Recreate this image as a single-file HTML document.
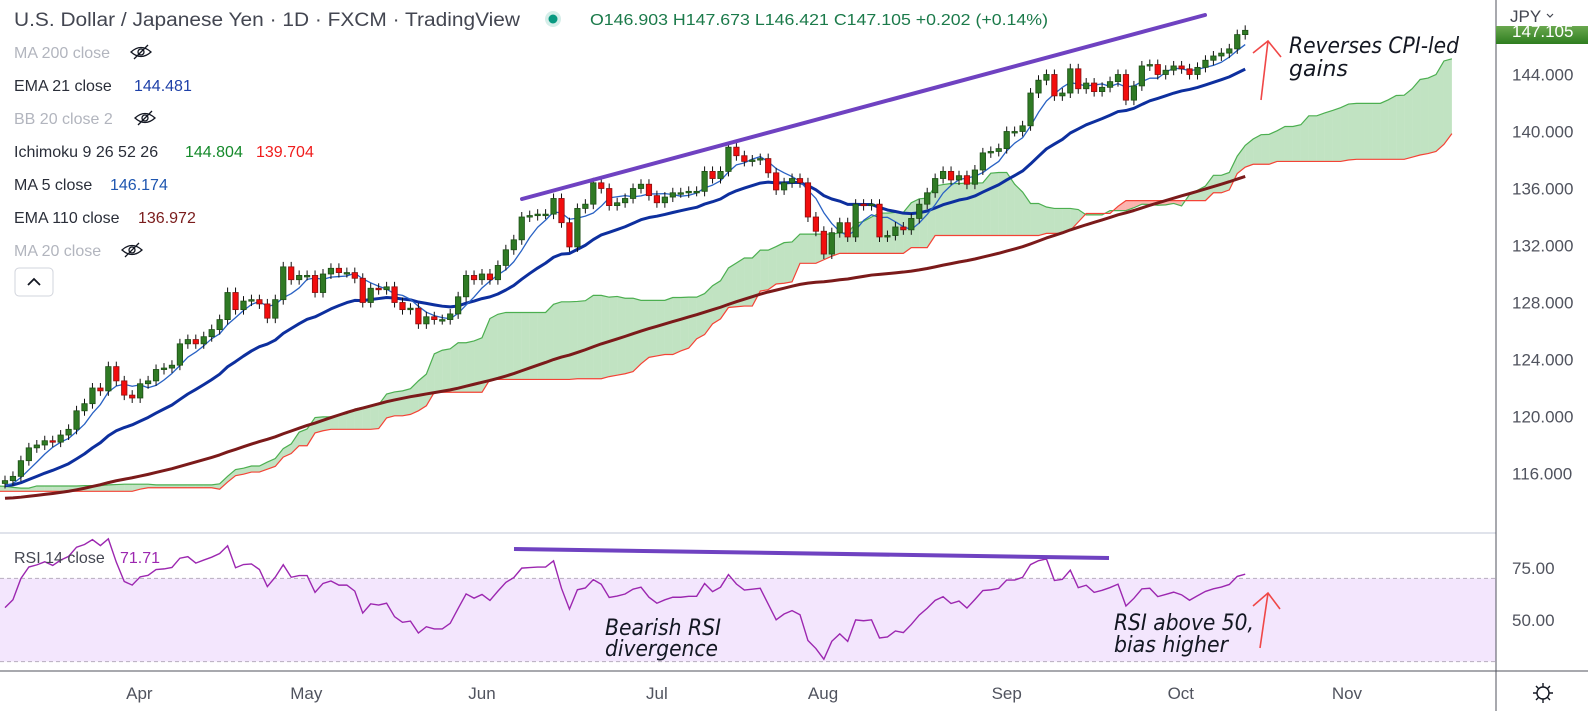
<!DOCTYPE html>
<html><head><meta charset="utf-8"><style>
html,body{margin:0;padding:0;background:#fff;}
svg{display:block;font-family:"Liberation Sans",sans-serif;}
</style></head><body>
<svg id="chart" width="1588" height="711" viewBox="0 0 1588 711" xmlns="http://www.w3.org/2000/svg">
<defs>
<clipPath id="mainClip"><rect x="0" y="0" width="1496" height="532"/></clipPath>
<clipPath id="rsiClip"><rect x="0" y="534" width="1496" height="136"/></clipPath>
<clipPath id="lblClip"><rect x="1496" y="26" width="92" height="18"/></clipPath>
<linearGradient id="pg" x1="0" y1="0" x2="0" y2="1"><stop offset="0" stop-color="#6aa84f"/><stop offset="1" stop-color="#2e7d1f"/></linearGradient>
</defs>
<rect width="1588" height="711" fill="#fff"/>
<rect x="0" y="578.4" width="1496" height="83.2" fill="#f3e6fd"/>
<line x1="0" y1="578.4" x2="1496" y2="578.4" stroke="#b8aebf" stroke-dasharray="4,3" stroke-width="1"/>
<line x1="0" y1="661.6" x2="1496" y2="661.6" stroke="#b8aebf" stroke-dasharray="4,3" stroke-width="1"/>
<line x1="0" y1="533" x2="1496" y2="533" stroke="#e0e3eb" stroke-width="2"/>
<line x1="1496" y1="0" x2="1496" y2="711" stroke="#50535e" stroke-width="1"/>
<line x1="0" y1="671" x2="1588" y2="671" stroke="#50535e" stroke-width="1"/>
<g id="main" clip-path="url(#mainClip)"></g>
<g id="rsi" clip-path="url(#rsiClip)"></g>
<g id="axes"></g>

<line x1="522" y1="199" x2="1205" y2="15" stroke="#6f42c1" stroke-width="4" stroke-linecap="round"/>
<line x1="514" y1="549" x2="1109" y2="558" stroke="#6f42c1" stroke-width="4"/>
<g stroke="#f04747" stroke-width="1.6" fill="none">
<line x1="1261" y1="100" x2="1268" y2="41"/><polyline points="1253,53 1268,41 1281,57"/></g>
<g stroke="#f04747" stroke-width="1.6" fill="none">
<line x1="1260" y1="648" x2="1268" y2="593"/><polyline points="1253,606 1268,593 1280,609"/></g>
<g font-style="italic" font-size="22" fill="#131722" font-family="'DejaVu Sans','Liberation Sans',sans-serif">
<text x="1289" y="53" textLength="170" lengthAdjust="spacingAndGlyphs">Reverses CPI-led</text>
<text x="1289" y="76">gains</text>
<text x="605" y="635" textLength="116" lengthAdjust="spacingAndGlyphs">Bearish RSI</text>
<text x="605" y="656" textLength="113" lengthAdjust="spacingAndGlyphs">divergence</text>
<text x="1114" y="630" textLength="140" lengthAdjust="spacingAndGlyphs">RSI above 50,</text>
<text x="1114" y="652" textLength="114" lengthAdjust="spacingAndGlyphs">bias higher</text>
</g>

<text x="14" y="26" font-size="19" fill="#434651" textLength="506" lengthAdjust="spacingAndGlyphs">U.S. Dollar / Japanese Yen · 1D · FXCM · TradingView</text>
<circle cx="553" cy="19" r="8" fill="#d5eee9"/>
<circle cx="553" cy="19" r="4.5" fill="#089981"/>
<text x="590" y="25" font-size="15.5" fill="#1b7a4a" textLength="458" lengthAdjust="spacingAndGlyphs">O146.903 H147.673 L146.421 C147.105 +0.202 (+0.14%)</text>
<g font-size="16">
<text x="14" y="58" fill="#b2b5be">MA 200 close</text>
<text x="14" y="91" fill="#2a2e39">EMA 21 close <tspan x="134" fill="#1e40a8">144.481</tspan></text>
<text x="14" y="124" fill="#b2b5be">BB 20 close 2</text>
<text x="14" y="157" fill="#2a2e39">Ichimoku 9 26 52 26 <tspan x="185" fill="#14892a">144.804</tspan><tspan x="256" fill="#f01c1c">139.704</tspan></text>
<text x="14" y="190" fill="#2a2e39">MA 5 close <tspan x="110" fill="#1e56b0">146.174</tspan></text>
<text x="14" y="223" fill="#2a2e39">EMA 110 close <tspan x="138" fill="#7a1c1c">136.972</tspan></text>
<text x="14" y="256" fill="#b2b5be">MA 20 close</text>
<text x="14" y="563" fill="#434651">RSI 14 close <tspan x="120" fill="#9c27b0">71.71</tspan></text>
</g>
<g fill="none" stroke="#131722" stroke-width="1.3">
<g transform="translate(141,52)"><path d="M-10,0 Q0,-9 10,0 Q0,9 -10,0 Z"/><circle r="3"/><line x1="-7" y1="7" x2="7" y2="-7"/></g>
<g transform="translate(145,118)"><path d="M-10,0 Q0,-9 10,0 Q0,9 -10,0 Z"/><circle r="3"/><line x1="-7" y1="7" x2="7" y2="-7"/></g>
<g transform="translate(132,250)"><path d="M-10,0 Q0,-9 10,0 Q0,9 -10,0 Z"/><circle r="3"/><line x1="-7" y1="7" x2="7" y2="-7"/></g>
</g>
<rect x="15" y="268" width="38" height="28" rx="4" fill="#fff" stroke="#d1d4dc"/>
<polyline points="28,285 34,279 40,285" fill="none" stroke="#131722" stroke-width="1.8"/>

<text x="1510" y="22" font-size="17" fill="#434651">JPY</text>
<polyline points="1547,14 1550,17 1553,14" fill="none" stroke="#434651" stroke-width="1.2"/>
<g clip-path="url(#lblClip)">
<rect x="1496" y="26" width="92" height="18" fill="url(#pg)"/>
<text x="1512" y="37" font-size="17" fill="#fff">147.105</text>
</g>
<g transform="translate(1543,693)" fill="none" stroke="#131722" stroke-width="1.4">
<circle r="6"/>
<path d="M0,-10V-6M0,6V10M-10,0H-6M6,0H10M-7,-7L-4.3,-4.3M4.3,4.3L7,7M-7,7L-4.3,4.3M4.3,-4.3L7,-7"/>
</g>
</svg>
<script>
const closes=[115.5,115.8,116.9,117.8,118.0,118.3,118.2,118.7,119.1,120.4,
120.9,122.0,121.8,123.5,122.5,121.5,121.3,122.3,122.5,123.3,
123.4,123.6,125.1,125.4,125.1,125.6,126.1,126.8,128.7,127.5,
128.1,128.2,127.9,126.9,128.2,130.5,129.6,129.9,129.9,128.7,
130.0,130.4,130.1,130.1,129.7,128.0,129.0,128.9,129.1,128.0,
127.5,127.6,126.5,127.0,126.8,126.8,127.2,128.4,129.9,129.6,
130.0,129.6,130.6,131.7,132.4,134.0,134.1,134.2,134.2,135.3,
133.6,131.9,134.6,134.9,136.4,136.0,134.8,135.0,135.3,136.0,
136.3,135.5,135.0,135.4,135.7,135.7,135.8,135.8,137.2,136.7,
137.2,138.9,138.3,137.9,138.0,138.1,137.1,135.9,136.4,136.7,
136.4,134.0,133.0,131.4,132.9,133.6,132.6,134.9,134.8,134.9,
132.6,132.7,133.3,133.1,133.9,134.9,135.7,136.7,137.2,136.6,
136.9,136.3,137.3,138.5,138.6,138.8,140.0,140.0,140.4,142.7,
143.6,144.0,142.5,142.7,144.4,143.0,143.4,142.8,143.1,143.5,
144.0,142.2,143.2,144.6,144.7,144.0,144.3,144.6,144.4,144.0,
144.5,145.0,145.3,145.5,145.8,146.8,147.1];
const preHistory=[114.0,114.3,114.1,113.8,113.6,113.9,114.2,114.5,114.3,114.0,113.7,113.5,113.8,114.1,114.4,114.2,113.9,113.6,113.4,113.7,114.0,114.3,114.6,114.8,115.1,115.3,115.6,115.9,116.1,115.8,115.5,115.2,114.9,114.6,114.3,114.5,114.8,114.6,114.3,114.1,113.9,114.2,114.5,114.8,115.1,115.3,115.5,115.2,114.9,115.1,115.4,115.6,115.3,115.0,114.8,115.1,115.4,115.6,115.9,115.7,115.4,115.1,114.9,115.2,115.5,115.3,115.0,114.8,115.0,115.3,115.5,115.2,114.9,114.7,115.0,115.2,115.0,114.8,115.1,115.3];
const priceTicks=[144,140,136,132,128,124,120,116];
const priceTickLabels=["144.000","140.000","136.000","132.000","128.000","124.000","120.000","116.000"];
const rsiTicks=[75,50];
const rsiTickLabels=["75.00","50.00"];
const monthLabels=["Apr","May","Jun","Jul","Aug","Sep","Oct","Nov"];
const monthBarIndex=[16.9,37.9,60.0,82.0,102.9,126.0,147.9,168.8];

const NS="http://www.w3.org/2000/svg";
function xOf(d){return 5+7.95*d;}
function yP(p){return 74.5+(144-p)*14.25;}
function yR(r){return 568+(75-r)*2.08;}
function mk(tag,attrs,parent){const e=document.createElementNS(NS,tag);for(const k in attrs)e.setAttribute(k,attrs[k]);parent.appendChild(e);return e;}
const main=document.getElementById('main'),rsiG=document.getElementById('rsi'),axes=document.getElementById('axes');

const all=preHistory.concat(closes);const P=preHistory.length;
const opens=all.map((c,i)=>i?all[i-1]:c);
const highs=all.map((c,i)=>Math.max(c,opens[i])+0.35);
const lows=all.map((c,i)=>Math.min(c,opens[i])-0.35);
function mid(i,n){let h=-1e9,l=1e9;for(let k=Math.max(0,i-n+1);k<=i;k++){h=Math.max(h,highs[k]);l=Math.min(l,lows[k]);}return (h+l)/2;}

const spanA=[],spanB=[],spanX=[];
for(let k=51;k<all.length;k++){const d=k-P+26;spanX.push(xOf(d));spanA.push((mid(k,9)+mid(k,26))/2);spanB.push(mid(k,52));}
for(let j=0;j<spanX.length-1;j++){
 const up=spanA[j]+spanA[j+1]>=spanB[j]+spanB[j+1];
 const q=mk('polygon',{points:`${spanX[j]},${yP(spanA[j])} ${spanX[j+1]},${yP(spanA[j+1])} ${spanX[j+1]},${yP(spanB[j+1])} ${spanX[j]},${yP(spanB[j])}`,fill:up?'rgba(76,175,80,0.35)':'rgba(244,67,54,0.4)',stroke:'none'},main);
 
 
}
const la=mk('polyline',{points:spanX.map((x,j)=>x+','+yP(spanA[j])).join(' '),fill:'none',stroke:'#4caf50','stroke-width':1.2},main);


const lb=mk('polyline',{points:spanX.map((x,j)=>x+','+yP(spanB[j])).join(' '),fill:'none',stroke:'#f44336','stroke-width':1.2},main);



function ema(n,seed){const out=[];let v=seed;const a=2/(n+1);all.forEach(c=>{v=v+a*(c-v);out.push(v);});return out;}
const e110=ema(110,112),e21=ema(21,114.8);
const ma5=all.map((c,i)=>{let s=0,n=0;for(let k=Math.max(0,i-4);k<=i;k++){s+=all[k];n++;}return s/n;});
function line(arr,color,w,name){const pts=[];for(let k=P;k<all.length;k++)pts.push(xOf(k-P)+','+yP(arr[k]));const l=mk('polyline',{points:pts.join(' '),fill:'none',stroke:color,'stroke-width':w,'stroke-linejoin':'round'},main);}
line(e110,'#7b1a1a',3,'ema-110-line');
line(e21,'#0d2f9e',3,'ema-21-line');
line(ma5,'#2962c4',1.3,'ma-5-line');

for(let k=P;k<all.length;k++){
 const d=k-P,x=xOf(d),o=opens[k],c=all[k],up=c>=o;
 const w=mk('line',{x1:x,x2:x,y1:yP(highs[k]),y2:yP(lows[k]),stroke:'#111','stroke-width':1},main);
 
 
 const top=yP(Math.max(o,c)),bh=Math.max(1.5,Math.abs(yP(o)-yP(c)));
 const b=mk('rect',{x:x-2.7,y:top,width:5.4,height:bh,fill:up?'#2f7a24':'#f20d0d',stroke:up?'#1d4f16':'#8a1010','stroke-width':0.8},main);
 
 
}

const rsi=[];let ag=0,al=0;
for(let i=1;i<all.length;i++){const ch=all[i]-all[i-1],g=Math.max(ch,0),l=Math.max(-ch,0);
 if(i<=14){ag+=g/14;al+=l/14;}else{ag=(ag*13+g)/14;al=(al*13+l)/14;}
 rsi[i]=al===0?100:100-100/(1+ag/al);}
const rp=[];for(let k=P;k<all.length;k++)rp.push(xOf(k-P)+','+yR(rsi[k]));
const rl=mk('polyline',{points:rp.join(' '),fill:'none',stroke:'#9c27b0','stroke-width':1.4},rsiG);



priceTicks.forEach((p,i)=>{const t=mk('text',{x:1512,y:yP(p)+6,'font-size':17,fill:'#50535e'},axes);t.textContent=priceTickLabels[i];
 
 });
rsiTicks.forEach((r,i)=>{const t=mk('text',{x:1512,y:yR(r)+6,'font-size':17,fill:'#50535e'},axes);t.textContent=rsiTickLabels[i];
 
 });
monthLabels.forEach((m,i)=>{const t=mk('text',{x:xOf(monthBarIndex[i]),y:699,'font-size':17,fill:'#50535e','text-anchor':'middle'},axes);t.textContent=m;
 
 });
</script>
</body></html>
